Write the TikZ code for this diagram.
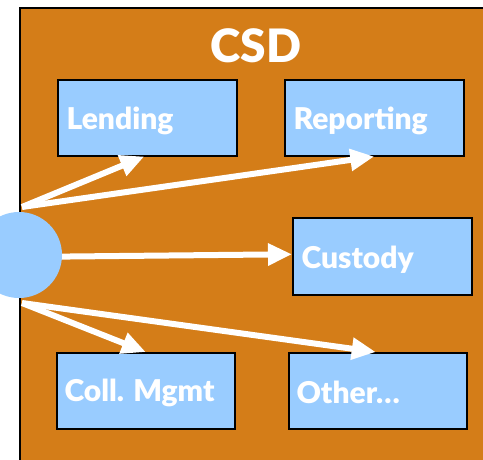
\documentclass[tikz,border=0pt]{standalone}
\usepackage{fontspec}
\setmainfont{Lato}[BoldFont={Lato Black}]
\usepackage{tikz}
\usetikzlibrary{arrows.meta}

\definecolor{csdorange}{RGB}{212,125,24}
\definecolor{boxblue}{RGB}{153,204,255}

\begin{document}
\begin{tikzpicture}[x=1pt, y=-1pt,
    unit/.style={draw=black, line width=1.5pt, fill=boxblue, anchor=north west, inner sep=0pt},
    label/.style={anchor=west, text=white, font=\fontsize{30}{32}\selectfont\bfseries},
    flow/.style={draw=white, line width=6pt, -{Triangle[length=24pt, width=21pt]}}]
    \useasboundingbox (0, 0) rectangle (483, 459);
    \fill[csdorange, draw=black, line width=1.5pt] (20, 8) rectangle (500, 480);
    \node[text=white, font=\fontsize{46}{48}\selectfont\bfseries] (title) at (256, 46) {CSD};

    \node[unit, minimum width=179pt, minimum height=76pt] (lending) at (57, 79) {};
    \node[unit, minimum width=179pt, minimum height=76pt] (reporting) at (284, 79) {};
    \node[unit, minimum width=179pt, minimum height=77pt] (custody) at (292, 217) {};
    \node[unit, minimum width=178pt, minimum height=76pt] (coll) at (56, 352) {};
    \node[unit, minimum width=178pt, minimum height=76pt] (other) at (288, 352) {};

    \node[label] at ([xshift=6pt, yshift=-3pt]lending.west) {Lending};
    \node[label] at ([xshift=6pt, yshift=-3pt]reporting.west) {Reporting};
    \node[label] at ([xshift=6pt, yshift=-3pt]custody.west) {Custody};
    \node[label] at ([xshift=5pt, yshift=-2pt]coll.west) {Coll. Mgmt};
    \node[label] at ([xshift=5pt, yshift=-2pt]other.west) {Other\ldots};

    \coordinate (top) at (22, 207);
    \coordinate (bot) at (22, 303);
    \draw[flow] (top) -- ([xshift=-3pt]lending.south);
    \draw[flow] (top) -- (reporting.south);
    \draw[flow] (20, 257) -- ([yshift=2pt]custody.west);
    \draw[flow] (bot) -- (coll.north);
    \draw[flow] (bot) -- ([xshift=-2pt]other.north);

    \node[circle, fill=boxblue, minimum size=86pt, inner sep=0pt] (hub) at (19, 255) {};
\end{tikzpicture}
\end{document}
